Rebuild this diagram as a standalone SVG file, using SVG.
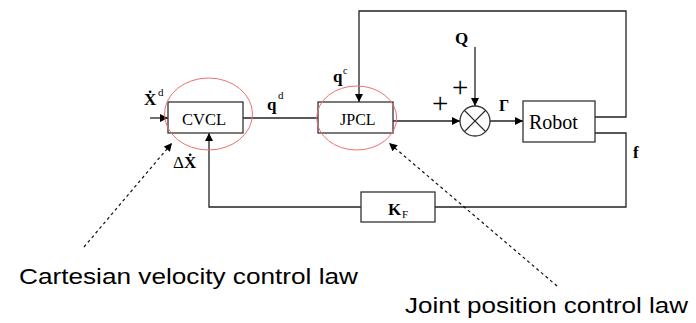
<svg xmlns="http://www.w3.org/2000/svg" width="696" height="323" viewBox="0 0 696 323">
<style>
.ln{fill:none;stroke:#222;stroke-width:1.3}
.bx{fill:#fff;stroke:#333;stroke-width:1.3}
.el{fill:none;stroke:#f07070;stroke-width:1}
.dash{fill:none;stroke:#111;stroke-width:1.2;stroke-dasharray:3,3}
.t{font-family:"Liberation Serif","Times New Roman",serif;fill:#000}
.b{font-weight:bold}
.s{font-family:"Liberation Sans",Arial,sans-serif;fill:#000;font-size:22px}
</style>
<defs>
<marker id="ah" viewBox="0 0 10 10" refX="10" refY="5" markerWidth="10" markerHeight="8" markerUnits="userSpaceOnUse" orient="auto">
<path d="M0,0 L10,5 L0,10 z" fill="#000"/>
</marker>
<marker id="ahs" viewBox="0 0 10 10" refX="10" refY="5" markerWidth="9" markerHeight="8" markerUnits="userSpaceOnUse" orient="auto">
<path d="M0,0 L10,5 L0,10 z" fill="#000"/>
</marker>
</defs>
<g id="connectors">
<line class="ln" x1="150" y1="118" x2="168" y2="118" marker-end="url(#ah)"/>
<line class="ln" x1="243" y1="118" x2="318" y2="118"/>
<polyline class="ln" points="595,117 626,117 626,11 359,11 359,102" marker-end="url(#ah)"/>
<line class="ln" x1="393" y1="121" x2="460" y2="121" marker-end="url(#ah)"/>
<line class="ln" x1="475" y1="47" x2="475" y2="106" marker-end="url(#ah)"/>
<line class="ln" x1="490" y1="121" x2="523" y2="121" marker-end="url(#ah)"/>
<polyline class="ln" points="595,133 626,133 626,207 435,207"/>
<polyline class="ln" points="361,207 209,207 209,133" marker-end="url(#ah)"/>
<line class="dash" x1="84" y1="247" x2="172" y2="143" marker-end="url(#ahs)"/>
<line class="dash" x1="557" y1="286" x2="389" y2="143" marker-end="url(#ahs)"/>
</g>
<g id="cvcl">
<rect class="bx" x="168" y="102" width="75" height="31"/>
<text class="t" x="182" y="125" font-size="16.5">CVCL</text>
<ellipse class="el" cx="208.5" cy="114" rx="44" ry="36"/>
</g>
<g id="jpcl">
<rect class="bx" x="318" y="102" width="75" height="31"/>
<text class="t" x="340" y="125" font-size="16">JPCL</text>
<ellipse class="el" cx="356.7" cy="118" rx="40" ry="32"/>
</g>
<g id="sum">
<circle class="bx" cx="475" cy="121" r="15"/>
<line class="ln" x1="464.4" y1="110.4" x2="485.6" y2="131.6"/>
<line class="ln" x1="485.6" y1="110.4" x2="464.4" y2="131.6"/>
</g>
<g id="robot">
<rect class="bx" x="523" y="101" width="72" height="41"/>
<text class="t" x="529" y="129" font-size="20">Robot</text>
</g>
<g id="kf">
<rect class="bx" x="361" y="192" width="74" height="30"/>
<text class="t b" x="388" y="215" font-size="17">K</text>
<text class="t" x="402" y="218" font-size="11">F</text>
</g>
<g id="labels">
<text class="t b" x="144" y="105" font-size="17">Ẋ</text>
<text class="t" x="158" y="96" font-size="11">d</text>
<text class="t b" x="267" y="110" font-size="17">q</text>
<text class="t" x="278" y="99" font-size="11">d</text>
<text class="t b" x="333" y="82" font-size="17">q</text>
<text class="t" x="343" y="74" font-size="10">c</text>
<text class="t" x="173" y="168" font-size="17">Δ<tspan class="b">Ẋ</tspan></text>
<text class="t b" x="455" y="44" font-size="17">Q</text>
<text class="t" x="432" y="113" font-size="29">+</text>
<text class="t" x="452" y="97" font-size="29">+</text>
<text class="t b" x="499" y="111" font-size="16">Γ</text>
<text class="t b" x="633" y="158" font-size="17">f</text>
<text class="s" x="19" y="284" textLength="339" lengthAdjust="spacingAndGlyphs">Cartesian velocity control law</text>
<text class="s" x="405" y="313" textLength="283" lengthAdjust="spacingAndGlyphs">Joint position control law</text>
</g>
</svg>
